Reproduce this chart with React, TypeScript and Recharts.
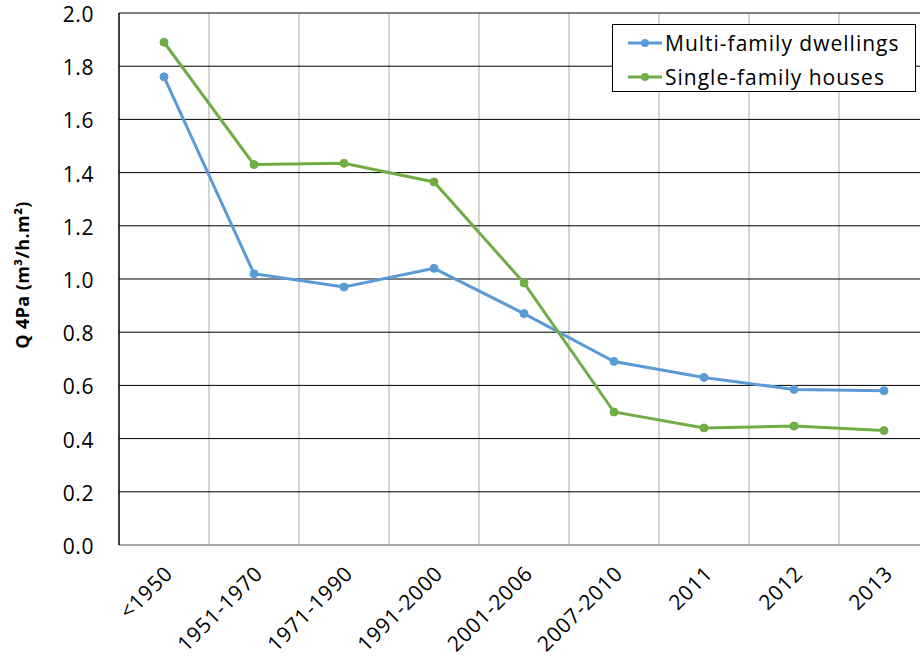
import { LineChart, Line, XAxis, YAxis, CartesianGrid } from 'recharts';

// construction periods
const periods = ['<1950', '1951-1970', '1971-1990', '1991-2000', '2001-2006', '2007-2010', '2011', '2012', '2013'];
// Q 4Pa (m³/h.m²)
const multiFamily = [1.76, 1.02, 0.97, 1.04, 0.87, 0.69, 0.63, 0.585, 0.58];
const singleFamily = [1.89, 1.43, 1.435, 1.365, 0.985, 0.5, 0.44, 0.447, 0.43];
const yTicks = [0, 0.2, 0.4, 0.6, 0.8, 1.0, 1.2, 1.4, 1.6, 1.8, 2.0];

const series = [
    { key: 'multi', name: 'Multi-family dwellings', color: '#5b9bd5' },
    { key: 'single', name: 'Single-family houses', color: '#70ad47' },
];

const data = periods.map((p, i) => ({
    period: p,
    multi: multiFamily[i],
    single: singleFamily[i],
}));

const FONT = '"Open Sans", "Liberation Sans", sans-serif';

const XTick = (props: any) => {
    const { x, y, payload } = props;
    return (
        <g transform={`translate(${x + 10},${y + 30})`}>
            <text x={0} y={0} textAnchor="end" transform="rotate(-45)" fill="#000" fontSize={21} letterSpacing={0.8} fontFamily={FONT}>
                {payload.value}
            </text>
        </g>
    );
};

const YTick = (props: any) => {
    const { x, y, payload } = props;
    return (
        <text x={x} y={y + 1} textAnchor="end" dominantBaseline="central" fill="#000" fontSize={21} letterSpacing={0.6} fontFamily={FONT}>
            {payload.value.toFixed(1)}
        </text>
    );
};

const YTitle = (props: any) => {
    const { viewBox } = props;
    const cy = viewBox.y + viewBox.height / 2 - 4;
    return (
        <text x={22} y={cy} transform={`rotate(-90, 22, ${cy})`} textAnchor="middle" dominantBaseline="central"
            fontSize={18} letterSpacing={0.4} fontWeight="bold" fontFamily={FONT} fill="#000">
            Q 4Pa (m³/h.m²)
        </text>
    );
};

// number of categories, used to put vertical grid lines on the category boundaries
const nCat = periods.length;

export default function App() {
    return (
        <div style={{ position: 'absolute', left: 0, top: 0, width: 920, height: 666, overflow: 'hidden', background: '#fff' }}>
            <LineChart width={940} height={666} data={data} margin={{ top: 13, right: 11, left: 0, bottom: 0 }}>
                <CartesianGrid horizontal={false} stroke="#bfbfbf" strokeWidth={1.3}
                    verticalCoordinatesGenerator={({ offset }: any) =>
                        Array.from({ length: nCat }, (_, i) => offset.left + ((i + 1) * offset.width) / nCat)} />
                <CartesianGrid vertical={false} stroke="#000" strokeWidth={1} />
                <XAxis dataKey="period" scale="band" height={121} interval={0} tick={<XTick />} tickLine={false}
                    tickSize={0} tickMargin={0} axisLine={{ stroke: '#a6a6a6', strokeWidth: 2 }} />
                <YAxis domain={[0, 2]} ticks={yTicks} width={119} interval={0} tickLine={false} tickSize={0} tickMargin={25}
                    axisLine={{ stroke: '#000', strokeWidth: 1.5 }}
                    tick={<YTick />}
                    label={<YTitle />} />
                {series.map((s) => (
                    <Line key={s.key} type="linear" dataKey={s.key} name={s.name} stroke={s.color} strokeWidth={3}
                        dot={{ r: 4, fill: s.color, stroke: s.color, strokeWidth: 1 }} isAnimationActive={false} />
                ))}
            </LineChart>
            <div style={{ position: 'absolute', left: 612, top: 24, width: 304, height: 68, boxSizing: 'border-box',
                border: '1px solid #000', background: '#fff', fontFamily: FONT, fontSize: 21, letterSpacing: 1 }}>
                {series.map((s, i) => (
                    <div key={s.key} style={{ position: 'absolute', left: 15, top: 3 + i * 34, height: 30, display: 'flex', alignItems: 'center', whiteSpace: 'nowrap' }}>
                        <svg width={34} height={12} style={{ marginRight: 3 }}>
                            <line x1={0} y1={6} x2={34} y2={6} stroke={s.color} strokeWidth={3} />
                            <circle cx={17} cy={6} r={4} fill={s.color} />
                        </svg>
                        <span>{s.name}</span>
                    </div>
                ))}
            </div>
        </div>
    );
}
